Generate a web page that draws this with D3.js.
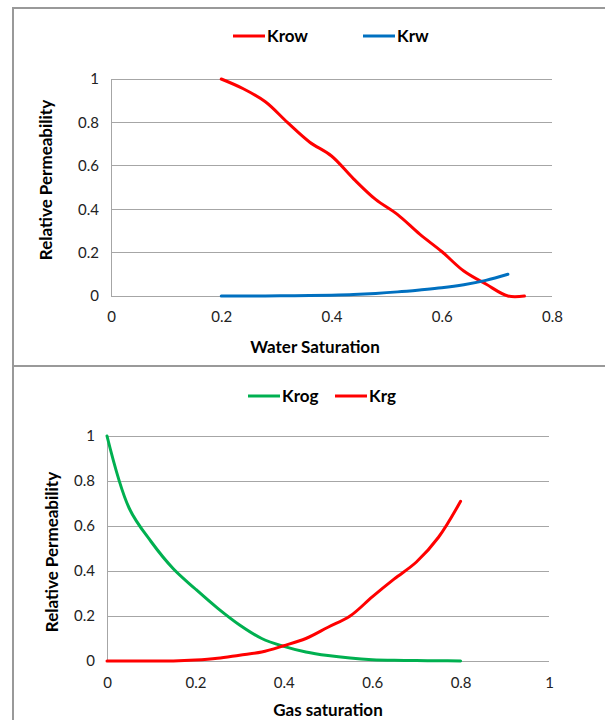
<!DOCTYPE html>
<html>
<head>
<meta charset="utf-8">
<script src="https://cdn.jsdelivr.net/npm/d3@7"></script>
<style>
  body { margin: 0; background: #fff; }
  svg { display: block; font-family: Lato, "Open Sans", sans-serif; }
</style>
</head>
<body>
<div id="chart"></div>
<script>
// top chart: water-oil
const sw = [0.2, 0.24, 0.28, 0.32, 0.36, 0.4, 0.44, 0.48, 0.52, 0.56, 0.6, 0.64, 0.68, 0.72, 0.75];
const krow = [1.0, 0.955, 0.895, 0.8, 0.71, 0.645, 0.54, 0.445, 0.375, 0.285, 0.205, 0.115, 0.055, 0.0, 0.0];
const swKrw = [0.2, 0.24, 0.28, 0.32, 0.36, 0.4, 0.44, 0.48, 0.52, 0.56, 0.6, 0.64, 0.68, 0.72];
const krw = [0, 0, 0, 0.001, 0.002, 0.004, 0.007, 0.012, 0.019, 0.028, 0.038, 0.052, 0.072, 0.1];
const swTicks = [0, 0.2, 0.4, 0.6, 0.8];

// bottom chart: gas-oil
const sg = [0, 0.05, 0.1, 0.15, 0.2, 0.25, 0.3, 0.35, 0.4, 0.45, 0.5, 0.55, 0.6, 0.65, 0.7, 0.75, 0.8];
const krog = [1.0, 0.68, 0.53, 0.41, 0.32, 0.235, 0.16, 0.1, 0.065, 0.04, 0.024, 0.013, 0.006, 0.003, 0.002, 0.001, 0];
const krg = [0, 0, 0, 0, 0.004, 0.012, 0.026, 0.04, 0.068, 0.1, 0.15, 0.2, 0.285, 0.365, 0.44, 0.55, 0.71];
const sgTicks = [0, 0.2, 0.4, 0.6, 0.8, 1];

const kTicks = [0, 0.2, 0.4, 0.6, 0.8, 1];

const W = 605, H = 720;
const svg = d3.select("#chart").append("svg")
  .attr("width", W).attr("height", H);

// panel frames
svg.append("rect").attr("x", 13).attr("y", 8).attr("width", 700).attr("height", 358)
  .attr("fill", "none").attr("stroke", "#999").attr("stroke-width", 2);
svg.append("rect").attr("x", 13).attr("y", 366).attr("width", 700).attr("height", 400)
  .attr("fill", "none").attr("stroke", "#999").attr("stroke-width", 2);

function fmt(d) { return d === 0 ? "0" : d3.format("~g")(d); }

function drawPanel(cfg) {
  const g = svg.append("g");
  const x = d3.scaleLinear().domain(cfg.xDomain).range([cfg.left, cfg.right]);
  const y = d3.scaleLinear().domain([0, 1]).range([cfg.bottom, cfg.top]);

  // gridlines
  g.append("g").selectAll("line").data(kTicks).join("line")
    .attr("x1", cfg.left).attr("x2", cfg.right)
    .attr("y1", d => y(d)).attr("y2", d => y(d))
    .attr("stroke", "#a6a6a6").attr("stroke-width", 1)
    .attr("shape-rendering", "crispEdges");
  // left axis line
  g.append("line").attr("x1", cfg.left).attr("x2", cfg.left)
    .attr("y1", cfg.top).attr("y2", cfg.bottom)
    .attr("stroke", "#a6a6a6").attr("shape-rendering", "crispEdges");

  const yAxis = d3.axisLeft(y).tickValues(kTicks).tickFormat(fmt).tickSize(0).tickPadding(cfg.yPad);
  g.append("g").attr("transform", `translate(${cfg.left},0)`).call(yAxis)
    .call(a => a.select(".domain").remove())
    .selectAll("text").attr("font-size", 15).attr("fill", "#222").style("font-family", "Lato, sans-serif");

  const xAxis = d3.axisBottom(x).tickValues(cfg.xTicks).tickFormat(fmt).tickSize(0).tickPadding(cfg.xPad);
  g.append("g").attr("transform", `translate(0,${cfg.bottom})`).call(xAxis)
    .call(a => a.select(".domain").remove())
    .selectAll("text").attr("font-size", 15).attr("fill", "#222").style("font-family", "Lato, sans-serif");

  // titles
  g.append("text").attr("x", cfg.xTitle[0]).attr("y", cfg.xTitle[1])
    .attr("text-anchor", "middle").attr("font-size", 17).attr("font-weight", "bold")
    .text(cfg.xLabel);
  g.append("text").attr("transform", `translate(${cfg.yTitle[0]},${cfg.yTitle[1]}) rotate(-90)`)
    .attr("text-anchor", "middle").attr("font-size", 17).attr("font-weight", "bold")
    .text("Relative Permeability");

  const line = d3.line().x(d => x(d[0])).y(d => y(d[1])).curve(d3.curveCatmullRom.alpha(0.5));
  cfg.series.forEach(s => {
    g.append("path").datum(s.xs.map((v, i) => [v, s.ys[i]]))
      .attr("d", line).attr("fill", "none")
      .attr("stroke", s.color).attr("stroke-width", 3).attr("stroke-linecap", "round");
  });

  // legend
  cfg.series.forEach(s => {
    g.append("line").attr("x1", s.leg).attr("x2", s.leg + 32)
      .attr("y1", cfg.legY).attr("y2", cfg.legY)
      .attr("stroke", s.color).attr("stroke-width", 3);
    g.append("text").attr("x", s.leg + 34).attr("y", cfg.legY + 6)
      .attr("font-size", 17).attr("font-weight", "bold").text(s.name);
  });
}

drawPanel({
  xDomain: [0, 0.8], xTicks: swTicks,
  left: 111, right: 552, top: 79, bottom: 296,
  yPad: 12, xPad: 15,
  xLabel: "Water Saturation", xTitle: [315, 353],
  yTitle: [52, 180],
  legY: 36,
  series: [
    { name: "Krow", xs: sw, ys: krow, color: "#ff0000", leg: 233 },
    { name: "Krw", xs: swKrw, ys: krw, color: "#0070c0", leg: 363 }
  ]
});

drawPanel({
  xDomain: [0, 1], xTicks: sgTicks,
  left: 107, right: 549, top: 436, bottom: 661,
  yPad: 12, xPad: 16,
  xLabel: "Gas saturation", xTitle: [328, 716],
  yTitle: [58, 552],
  legY: 396,
  series: [
    { name: "Krog", xs: sg, ys: krog, color: "#00b050", leg: 248 },
    { name: "Krg", xs: sg, ys: krg, color: "#ff0000", leg: 335 }
  ]
});
</script>
</body>
</html>
